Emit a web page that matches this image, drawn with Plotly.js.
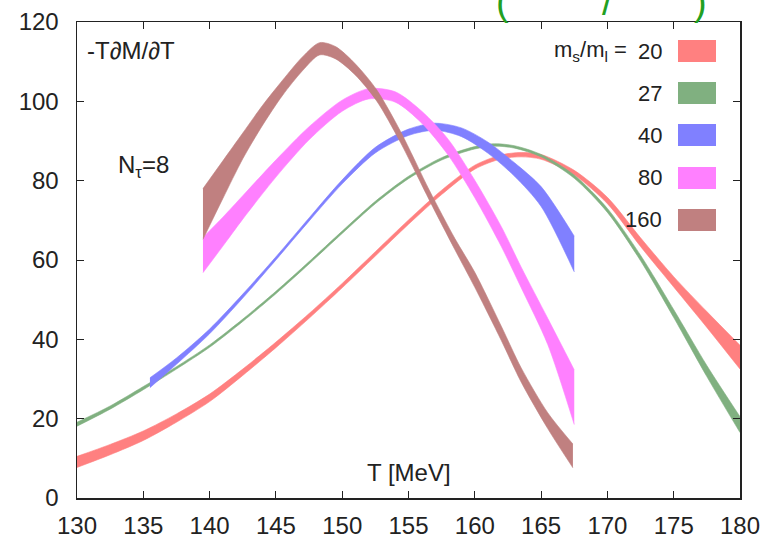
<!DOCTYPE html>
<html>
<head>
<meta charset="utf-8">
<script src="https://cdn.plot.ly/plotly-3.0.1.min.js"></script>
<style>html,body{margin:0;padding:0;background:#fff;} #chart{width:771px;height:541px;}</style>
</head>
<body>
<div id="chart"></div>
<script>
// ---- data ----
const ratios = ["20", "27", "40", "80", "160"];
const colors = ["#ff8080", "#80b080", "#8080ff", "#ff80ff", "#c08080"];

const T_20  = [130, 132.5, 135, 137.5, 140, 142.5, 145, 147.5, 150, 152.5, 155, 157.5, 160, 162, 163.5, 165, 167.5, 170, 172.5, 175, 177.5, 180];
const lo_20 = [7.7, 10.9, 14.5, 19.1, 24.3, 30.9, 37.9, 45.3, 53.0, 61.0, 69.0, 76.5, 82.9, 85.5, 86.0, 85.4, 81.4, 74.2, 63.4, 53.2, 43.0, 32.5];
const hi_20 = [10.5, 13.5, 16.9, 21.2, 26.2, 32.5, 39.3, 46.5, 54.1, 62.1, 70.1, 77.6, 83.9, 86.5, 87.1, 86.6, 82.6, 75.8, 65.6, 55.8, 47.0, 38.5];

const T_27  = [130, 132.5, 135, 137.5, 140, 142.5, 145, 147.5, 150, 152.5, 155, 157.5, 160, 161.5, 163, 165, 167.5, 170, 172.5, 175, 177.5, 180];
const lo_27 = [18.1, 22.4, 27.3, 32.5, 38.0, 44.5, 51.5, 59.0, 66.7, 74.2, 80.5, 85.2, 88.0, 88.7, 88.2, 86.0, 80.6, 72.0, 59.8, 45.5, 30.6, 16.5];
const hi_27 = [19.1, 23.2, 28.1, 33.1, 38.6, 45.1, 52.1, 59.6, 67.3, 74.8, 81.1, 85.8, 88.6, 89.3, 88.8, 86.6, 81.4, 73.0, 61.2, 47.5, 33.4, 20.5];

const T_40  = [135.5, 137.5, 140, 142.5, 145, 147.5, 150, 152.5, 155, 157, 159, 161, 163, 165, 167.5];
const lo_40 = [27.8, 33.7, 41.4, 50.4, 60.0, 69.8, 79.2, 87.0, 91.4, 92.7, 91.1, 86.9, 81.1, 73.5, 57.0];
const hi_40 = [30.3, 35.3, 42.6, 51.4, 60.8, 70.6, 80.2, 88.4, 93.0, 94.5, 93.3, 89.7, 84.5, 78.5, 66.0];

const T_80  = [139.5, 141, 142.5, 145, 147.5, 150, 152, 154, 156, 158, 160, 162, 163.5, 165.5, 167.5];
const lo_80 = [56.8, 63.5, 70.3, 80.9, 90.3, 97.5, 100.6, 99.8, 94.5, 86.4, 75.7, 63.4, 53.0, 38.7, 18.5];
const hi_80 = [65.7, 70.8, 76.2, 85.2, 93.6, 100.3, 103.2, 102.4, 97.5, 90.4, 80.1, 68.4, 58.2, 45.3, 32.3];

const T_160  = [139.5, 141, 142.5, 144, 145.5, 147, 148.3, 149.5, 151, 152.6, 154.4, 156.6, 158.5, 160, 162, 163.5, 165.5, 167.4];
const lo_160 = [65.2, 75.5, 85.5, 94.0, 101.5, 107.7, 111.7, 110.7, 106.6, 100.1, 89.6, 74.9, 62.6, 53.1, 39.7, 29.2, 17.5, 7.6];
const hi_160 = [78.0, 85.0, 92.0, 99.0, 105.3, 111.2, 114.8, 113.8, 109.4, 102.9, 92.4, 77.4, 65.4, 56.9, 43.3, 32.8, 21.5, 13.6];

const xTicks = [130, 135, 140, 145, 150, 155, 160, 165, 170, 175, 180];
const yTicks = [0, 20, 40, 60, 80, 100, 120];

// ---- build ----
const series = [
  {T: T_20, lo: lo_20, hi: hi_20},
  {T: T_27, lo: lo_27, hi: hi_27},
  {T: T_40, lo: lo_40, hi: hi_40},
  {T: T_80, lo: lo_80, hi: hi_80},
  {T: T_160, lo: lo_160, hi: hi_160}
];

const traces = [];
series.forEach((s, i) => {
  traces.push({x: s.T, y: s.lo, type: 'scatter', mode: 'lines', line: {color: colors[i], width: 0.6, shape: 'spline', smoothing: 0.8},
               hoverinfo: 'skip', showlegend: false});
  traces.push({x: s.T, y: s.hi, type: 'scatter', mode: 'lines', fill: 'tonexty', fillcolor: colors[i],
               line: {color: colors[i], width: 0.6, shape: 'spline', smoothing: 0.8}, name: ratios[i], showlegend: false});
});

const W = 771, H = 541;
const M = {l: 77, r: 31, t: 22, b: 43};
const pw = W - M.l - M.r, ph = H - M.t - M.b;
const px = v => (v - M.l) / pw;
const py = v => (H - M.b - v) / ph;

const font = 'Liberation Sans, Arial, Helvetica, sans-serif';
const annotations = [];
const shapes = [];

// legend (boxes + labels)
const rowY = [51, 93, 135, 178, 220];
ratios.forEach((r, i) => {
  shapes.push({type: 'rect', xref: 'paper', yref: 'paper', x0: px(678), x1: px(716), y0: py(rowY[i] - 11), y1: py(rowY[i] + 11),
               fillcolor: colors[i], line: {width: 0}});
  annotations.push({xref: 'paper', yref: 'paper', x: px(664), y: py(rowY[i]), xanchor: 'right', yanchor: 'middle',
                    text: r, showarrow: false, font: {family: font, size: 22, color: '#222'}});
});
annotations.push({xref: 'paper', yref: 'paper', x: px(629), y: py(rowY[0]), xanchor: 'right', yanchor: 'middle',
                  text: 'm<sub>s</sub>/m<sub>l</sub> =', showarrow: false, font: {family: font, size: 22, color: '#222'}});

annotations.push({xref: 'paper', yref: 'paper', x: px(85), y: py(50), xanchor: 'left', yanchor: 'middle',
                  text: '-T∂M/∂T', showarrow: false, font: {family: font, size: 24, color: '#222'}});
annotations.push({xref: 'paper', yref: 'paper', x: px(116), y: py(166), xanchor: 'left', yanchor: 'middle',
                  text: 'N<sub>τ</sub>=8', showarrow: false, font: {family: font, size: 24, color: '#222'}});
annotations.push({xref: 'paper', yref: 'paper', x: px(409), y: py(472), xanchor: 'center', yanchor: 'middle',
                  text: 'T [MeV]', showarrow: false, font: {family: font, size: 24, color: '#222'}});

// cut-off green text at the very top (only its lower part is visible in the reference)
[['(', 502], ['/', 607], [')', 700]].forEach(([t, x]) => {
  annotations.push({xref: 'paper', yref: 'paper', x: px(x), y: py(2), xanchor: 'center', yanchor: 'middle',
                    text: t, showarrow: false, font: {family: font, size: 38, color: '#22a022'}});
});

const layout = {
  width: W, height: H,
  margin: M,
  paper_bgcolor: '#fff', plot_bgcolor: '#fff',
  showlegend: false,
  font: {family: font, size: 24, color: '#222'},
  xaxis: {range: [130, 180], tickvals: xTicks, ticktext: xTicks.map(String), ticks: 'inside', ticklen: 7, tickcolor: '#222',
          showline: true, linecolor: '#222', linewidth: 1.5, mirror: 'ticks', showgrid: false, zeroline: false,
          tickfont: {family: font, size: 24, color: '#222'}, ticklabelstandoff: 6},
  yaxis: {range: [0, 120], tickvals: yTicks, ticktext: yTicks.map(String), ticks: 'inside', ticklen: 7, tickcolor: '#222',
          showline: true, linecolor: '#222', linewidth: 1.5, mirror: 'ticks', showgrid: false, zeroline: false,
          tickfont: {family: font, size: 24, color: '#222'}, ticklabelstandoff: 12},
  shapes: shapes,
  annotations: annotations
};

Plotly.newPlot('chart', traces, layout, {displayModeBar: false, staticPlot: true});
</script>
</body>
</html>
